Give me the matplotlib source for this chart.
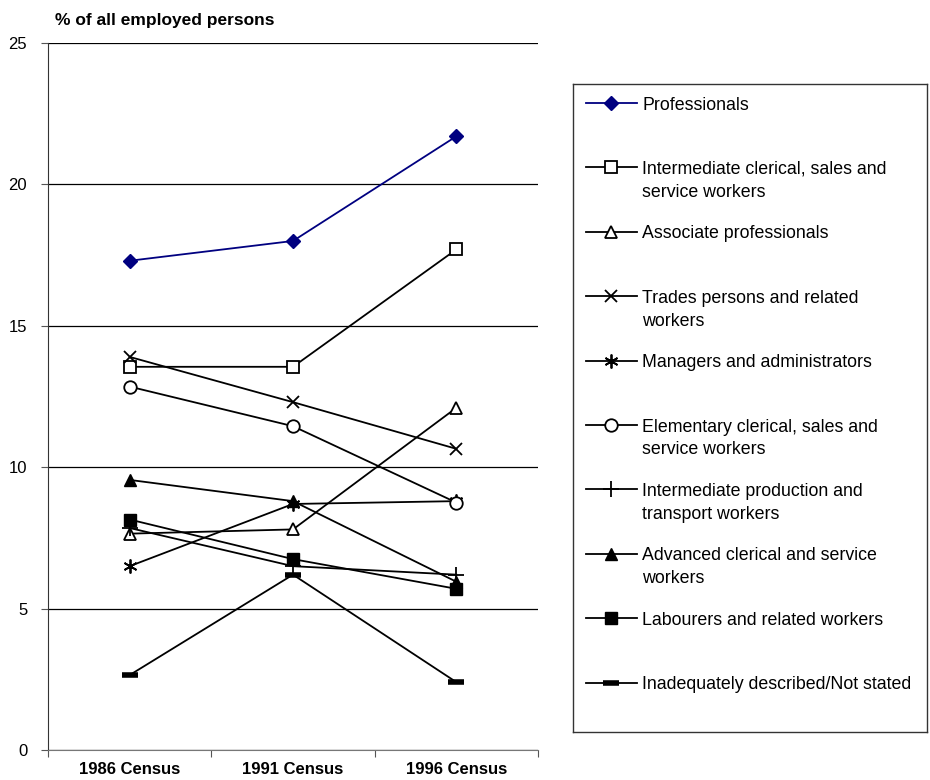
import matplotlib
matplotlib.use("Agg")
import matplotlib.pyplot as plt
from matplotlib.lines import Line2D

plt.rcParams['font.family'] = ['Liberation Sans', 'DejaVu Sans']

censuses = ['1986 Census', '1991 Census', '1996 Census']

professionals = [17.3, 18.0, 21.7]
intermediate_clerical = [13.55, 13.55, 17.7]
associate_professionals = [7.65, 7.8, 12.1]
trades = [13.9, 12.3, 10.65]
managers = [6.5, 8.7, 8.8]
elementary_clerical = [12.85, 11.45, 8.75]
intermediate_production = [7.85, 6.5, 6.2]
advanced_clerical = [9.55, 8.8, 5.95]
labourers = [8.15, 6.75, 5.7]
not_stated = [2.65, 6.2, 2.4]

labels = [
    'Professionals',
    'Intermediate clerical, sales and\nservice workers',
    'Associate professionals',
    'Trades persons and related\nworkers',
    'Managers and administrators',
    'Elementary clerical, sales and\nservice workers',
    'Intermediate production and\ntransport workers',
    'Advanced clerical and service\nworkers',
    'Labourers and related workers',
    'Inadequately described/Not stated',
]
series = [professionals, intermediate_clerical, associate_professionals, trades,
          managers, elementary_clerical, intermediate_production,
          advanced_clerical, labourers, not_stated]

# marker styles for each series
styles = [
    dict(color='#000080', marker='D', ms=7, mfc='#000080', mec='#000080', mew=1),
    dict(color='black', marker='s', ms=9, mfc='white', mec='black', mew=1.3),
    dict(color='black', marker='^', ms=9, mfc='white', mec='black', mew=1.3),
    dict(color='black', marker='x', ms=9, mfc='none', mec='black', mew=1.3),
    dict(color='black', marker=(6, 2, 0), ms=10, mfc='none', mec='black', mew=1.3),
    dict(color='black', marker='o', ms=9, mfc='white', mec='black', mew=1.3),
    dict(color='black', marker='+', ms=11, mfc='none', mec='black', mew=1.3),
    dict(color='black', marker='^', ms=9, mfc='black', mec='black', mew=1),
    dict(color='black', marker='s', ms=9, mfc='black', mec='black', mew=1),
    dict(color='black', marker='_', ms=11, mfc='black', mec='black', mew=4),
]

fig = plt.figure(figsize=(9.3, 7.8), dpi=100)
ax = fig.add_axes([48 / 930, 30 / 780, 490 / 930, 707 / 780])

x = range(len(censuses))
for vals, st in zip(series, styles):
    ax.plot(x, vals, lw=1.3, **st, zorder=3)

ax.set_xlim(-0.5, 2.5)
ax.set_ylim(0, 25)
ax.set_yticks([0, 5, 10, 15, 20, 25])
ax.set_yticklabels(['0', '5', '10', '15', '20', '25'], fontsize=12)
ax.yaxis.grid(True, color='black', lw=0.9)
ax.set_axisbelow(True)

# category boundaries as ticks, labels in between
ax.set_xticks([-0.5, 0.5, 1.5, 2.5])
ax.set_xticklabels([])
ax.set_xticks(list(x), minor=True)
ax.set_xticklabels(censuses, minor=True, fontsize=12, fontweight='bold')
ax.tick_params(axis='x', which='minor', length=0, pad=9)
ax.tick_params(axis='x', which='major', length=5, color='#555555')
ax.tick_params(axis='y', length=5, color='#555555', pad=10)

for side in ['top', 'right']:
    ax.spines[side].set_visible(False)
ax.spines['left'].set_color('#333333')
ax.spines['bottom'].set_color('#777777')

fig.text(55 / 930, 1 - 20 / 780, '% of all employed persons',
         fontsize=12.5, fontweight='bold', va='center', ha='left')

# legend drawn in its own box
lax = fig.add_axes([573 / 930, 48 / 780, 354 / 930, 648 / 780])
lax.set_xlim(0, 354)
lax.set_ylim(648, 0)
lax.set_xticks([])
lax.set_yticks([])
for sp in lax.spines.values():
    sp.set_color('#333333')
    sp.set_linewidth(1)

row0, step = 19, 64.4
for i, (lab, st) in enumerate(zip(labels, styles)):
    yy = row0 + i * step
    lax.add_line(Line2D([13, 64], [yy, yy], color=st['color'], lw=1.3))
    mk = {k: v for k, v in st.items() if k != 'color'}
    lax.add_line(Line2D([38], [yy], color=st['color'], lw=0, **mk))
    lax.text(69, yy - 6.5, lab, fontsize=12.8, va='top', ha='left', linespacing=1.45)

fig.savefig('out.png', dpi=100)
